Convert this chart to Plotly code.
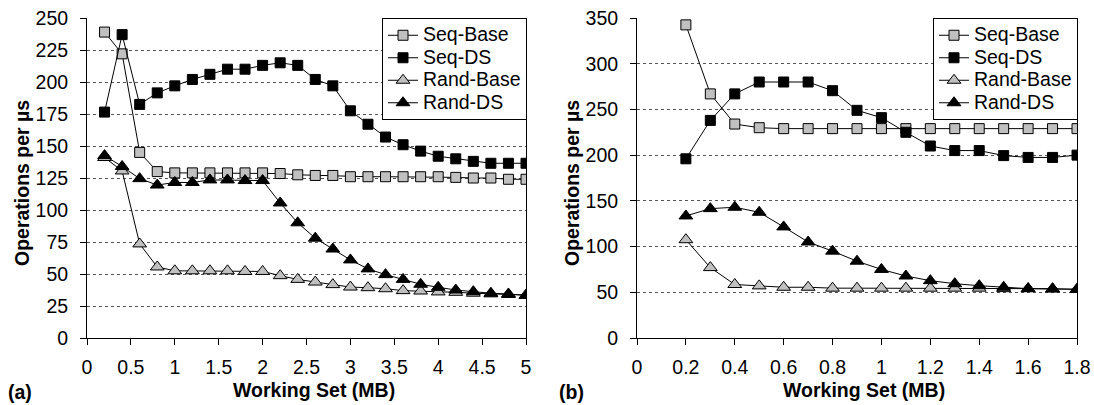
import plotly.graph_objects as go

# ---------------- data ----------------
x_a = [0.2, 0.4, 0.6, 0.8, 1.0, 1.2, 1.4, 1.6, 1.8, 2.0, 2.2, 2.4, 2.6, 2.8, 3.0,
       3.2, 3.4, 3.6, 3.8, 4.0, 4.2, 4.4, 4.6, 4.8, 5.0]
seq_base_a = [239, 222, 145, 130, 129, 129, 129, 129, 129, 129, 128.5, 127.5, 127, 127, 126,
              126, 126, 126, 126, 126, 125.5, 125, 125, 124, 124]
seq_ds_a = [176.5, 237, 182.5, 191.5, 197, 202, 206, 210, 210, 213, 215, 213, 202, 197, 177.5,
            167, 157, 151, 146, 142, 140, 138, 136.5, 136.5, 136.5]
rand_base_a = [141, 130.5, 73.5, 55.5, 52.5, 52.5, 52.5, 52.5, 52, 52, 48.7, 45.8, 43.7, 41.7, 39.8,
               39.3, 38.5, 37, 36.7, 36, 35.7, 35, 34.5, 34, 33.5]
rand_ds_a = [142.5, 134, 124.5, 119.5, 121.5, 121.5, 123.5, 123.5, 123, 123, 105.5, 90, 78, 69.5, 61,
             54, 49.5, 45.8, 42, 39.6, 37.5, 36.2, 35, 34.4, 33.3]

x_b = [0.2, 0.3, 0.4, 0.5, 0.6, 0.7, 0.8, 0.9, 1.0, 1.1, 1.2, 1.3, 1.4, 1.5, 1.6, 1.7, 1.8]
seq_base_b = [342.5, 267, 234, 230, 229, 229, 229, 229, 229, 229, 229, 229, 229, 229, 229, 229, 229]
seq_ds_b = [196, 238, 267, 280, 280, 280, 270.5, 249, 241, 225, 210, 205, 205, 199.5, 197.5, 197.5, 200]
rand_base_b = [107.5, 77, 58.5, 57, 55.5, 55.5, 54.5, 54.5, 54.5, 54.5, 54.5, 54.5, 54.5, 54, 54, 53.5, 53.5]
rand_ds_b = [133.5, 141.5, 143, 137.5, 121.5, 105, 95, 84, 75, 67.8, 62.7, 59.4, 57.2, 55.5, 54, 54, 53]

series_names = ["Seq-Base", "Seq-DS", "Rand-Base", "Rand-DS"]
y_ticks_a = [0, 25, 50, 75, 100, 125, 150, 175, 200, 225, 250]
y_ticks_b = [0, 50, 100, 150, 200, 250, 300, 350]
x_ticks_a = [0, 0.5, 1, 1.5, 2, 2.5, 3, 3.5, 4, 4.5, 5]
x_ticks_b = [0, 0.2, 0.4, 0.6, 0.8, 1, 1.2, 1.4, 1.6, 1.8]

# ---------------- style ----------------
FONT = "Liberation Sans, Arial, sans-serif"
GRAY = "#c0c0c0"
styles = [
    dict(symbol="square", color=GRAY, size=10),
    dict(symbol="square", color="black", size=10),
    dict(symbol="triangle-up", color=GRAY, size=12),
    dict(symbol="triangle-up", color="black", size=12),
]

W, H = 1094, 405
ML, MR, MT, MB = 87, 17, 18, 67
PW = W - ML - MR
PH = H - MT - MB


def px_x(p):
    return (p - ML) / PW


def px_y(p):
    return (H - MB - p) / PH


fig = go.Figure()

data_a = [seq_base_a, seq_ds_a, rand_base_a, rand_ds_a]
data_b = [seq_base_b, seq_ds_b, rand_base_b, rand_ds_b]


def legend_label(name):
    return '<span style="font-size:19.5px">' + name + '</span>'


for name, ys, st in zip(series_names, data_a, styles):
    fig.add_trace(go.Scatter(
        x=x_a, y=ys, name=legend_label(name), mode="lines+markers", xaxis="x", yaxis="y",
        line=dict(color="black", width=1),
        marker=dict(symbol=st["symbol"], color=st["color"], size=st["size"],
                    line=dict(color="black", width=1)),
        legend="legend",
    ))
for name, ys, st in zip(series_names, data_b, styles):
    fig.add_trace(go.Scatter(
        x=x_b, y=ys, name=legend_label(name), mode="lines+markers", xaxis="x2", yaxis="y2",
        line=dict(color="black", width=1),
        marker=dict(symbol=st["symbol"], color=st["color"], size=st["size"],
                    line=dict(color="black", width=1)),
        legend="legend2",
    ))

tickfont = dict(family=FONT, size=19.5, color="black")
common_x = dict(showline=True, linecolor="black", linewidth=1, ticks="outside",
                ticklen=6, tickcolor="black", showgrid=False, zeroline=False,
                tickfont=tickfont, automargin=False, ticklabelstandoff=6)
common_y = dict(showline=True, linecolor="black", linewidth=1, mirror=True, ticks="outside",
                ticklen=6, tickcolor="black", showgrid=True, gridcolor="#555555",
                griddash="dot", gridwidth=1, zeroline=False, tickfont=tickfont,
                automargin=False, ticklabelstandoff=8)

a_left, a_right = 87, 526
b_left, b_right = 637, 1077

legend_style = dict(font=dict(family=FONT, size=15, color="black"),
                    bgcolor="white", bordercolor="black", borderwidth=1,
                    xanchor="right", yanchor="top", y=1.0, tracegroupgap=0,
                    itemwidth=30)

fig.update_layout(
    width=W, height=H,
    margin=dict(l=ML, r=MR, t=MT, b=MB),
    paper_bgcolor="white", plot_bgcolor="white",
    font=dict(family=FONT, color="black"),
    xaxis=dict(domain=[px_x(a_left), px_x(a_right)], range=[0, 5], tickvals=x_ticks_a,
               anchor="y", **common_x),
    yaxis=dict(domain=[0, 1], range=[0, 250], tickvals=y_ticks_a, anchor="x", **common_y),
    xaxis2=dict(domain=[px_x(b_left), px_x(b_right)], range=[0, 1.8], tickvals=x_ticks_b,
                anchor="y2", **common_x),
    yaxis2=dict(domain=[0, 1], range=[0, 350], tickvals=y_ticks_b, anchor="x2", **common_y),
    legend=dict(x=px_x(527), **legend_style),
    legend2=dict(x=px_x(1078), **legend_style),
    showlegend=True,
)

title_font = dict(family=FONT, size=19.5, color="black")
annos = [
    dict(text="<b>Working Set (MB)</b>", x=px_x(314), y=px_y(390)),
    dict(text="<b>Working Set (MB)</b>", x=px_x(864), y=px_y(390)),
    dict(text="<b>Operations per µs</b>", x=px_x(22), y=px_y(183), textangle=-90),
    dict(text="<b>Operations per µs</b>", x=px_x(572), y=px_y(183), textangle=-90),
    dict(text="<b>(a)</b>", x=px_x(20), y=px_y(392)),
    dict(text="<b>(b)</b>", x=px_x(571), y=px_y(392)),
]
for a in annos:
    fig.add_annotation(xref="paper", yref="paper", showarrow=False,
                       xanchor="center", yanchor="middle", font=title_font, **a)

fig.write_html("out.html")
